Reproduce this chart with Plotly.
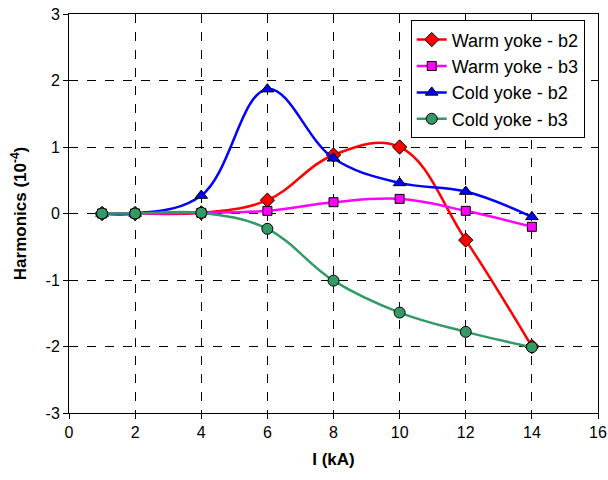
import plotly.graph_objects as go

current_kA = [1, 2, 4, 6, 8, 10, 12, 14]
warm_b2 = [0.0, 0.0, 0.01, 0.20, 0.88, 1.00, -0.40, -2.00]
warm_b3 = [0.0, 0.0, 0.01, 0.04, 0.17, 0.22, 0.04, -0.20]
cold_b2 = [0.0, 0.0, 0.27, 1.87, 0.83, 0.46, 0.33, -0.05]
cold_b3 = [0.0, 0.0, 0.01, -0.23, -1.01, -1.49, -1.78, -2.01]

x_ticks = [0, 2, 4, 6, 8, 10, 12, 14, 16]
y_ticks = [-3, -2, -1, 0, 1, 2, 3]
y_tick_labels = ["-3", "-2", "-1", "0", "1", "2", "3"]

series = [
    ("Warm yoke - b2", warm_b2, "#FF0000", "diamond", 11),
    ("Warm yoke - b3", warm_b3, "#FF00FF", "square", 9),
    ("Cold yoke - b2", cold_b2, "#0000FF", "triangle-up", 11),
    ("Cold yoke - b3", cold_b3, "#339966", "circle", 11),
]

fig = go.Figure()
for name, ys, color, sym, sz in series:
    fig.add_trace(go.Scatter(
        x=current_kA, y=ys, name=name, mode="lines+markers",
        line=dict(color=color, width=2.5, shape="spline", smoothing=1.1),
        marker=dict(symbol=sym, size=sz, color=color,
                    line=dict(color="black", width=1)),
    ))

font = "Liberation Sans, Arial, sans-serif"
fig.update_layout(
    width=608, height=480,
    margin=dict(l=69, r=10, t=14, b=67, autoexpand=False),
    paper_bgcolor="white", plot_bgcolor="white",
    font=dict(family=font, size=16, color="black"),
    showlegend=True,
    legend=dict(x=0.646, y=0.984, xanchor="left", yanchor="top",
                bgcolor="white", bordercolor="black", borderwidth=1,
                font=dict(size=18), tracegroupgap=0, itemwidth=30),
    xaxis=dict(range=[0, 16], tickvals=x_ticks, automargin=False,
               showline=True, linecolor="black", linewidth=1, mirror=True,
               ticks="outside", ticklen=5, tickcolor="black",
               showgrid=True, gridcolor="black", griddash="dash", gridwidth=1,
               zeroline=False,
               title=dict(text="<b>I (kA)</b>", font=dict(size=17), standoff=12),
               tickfont=dict(size=16)),
    yaxis=dict(range=[-3, 3], tickvals=y_ticks, ticktext=y_tick_labels, automargin=False,
               showline=True, linecolor="black", linewidth=1, mirror=True,
               ticks="outside", ticklen=5, tickcolor="black",
               showgrid=True, gridcolor="black", griddash="dash", gridwidth=1,
               zeroline=False,
               title=dict(text="<b>Harmonics (10<sup>-4</sup>)</b>", font=dict(size=17), standoff=14),
               tickfont=dict(size=16)),
)

fig.write_html("out.html")
